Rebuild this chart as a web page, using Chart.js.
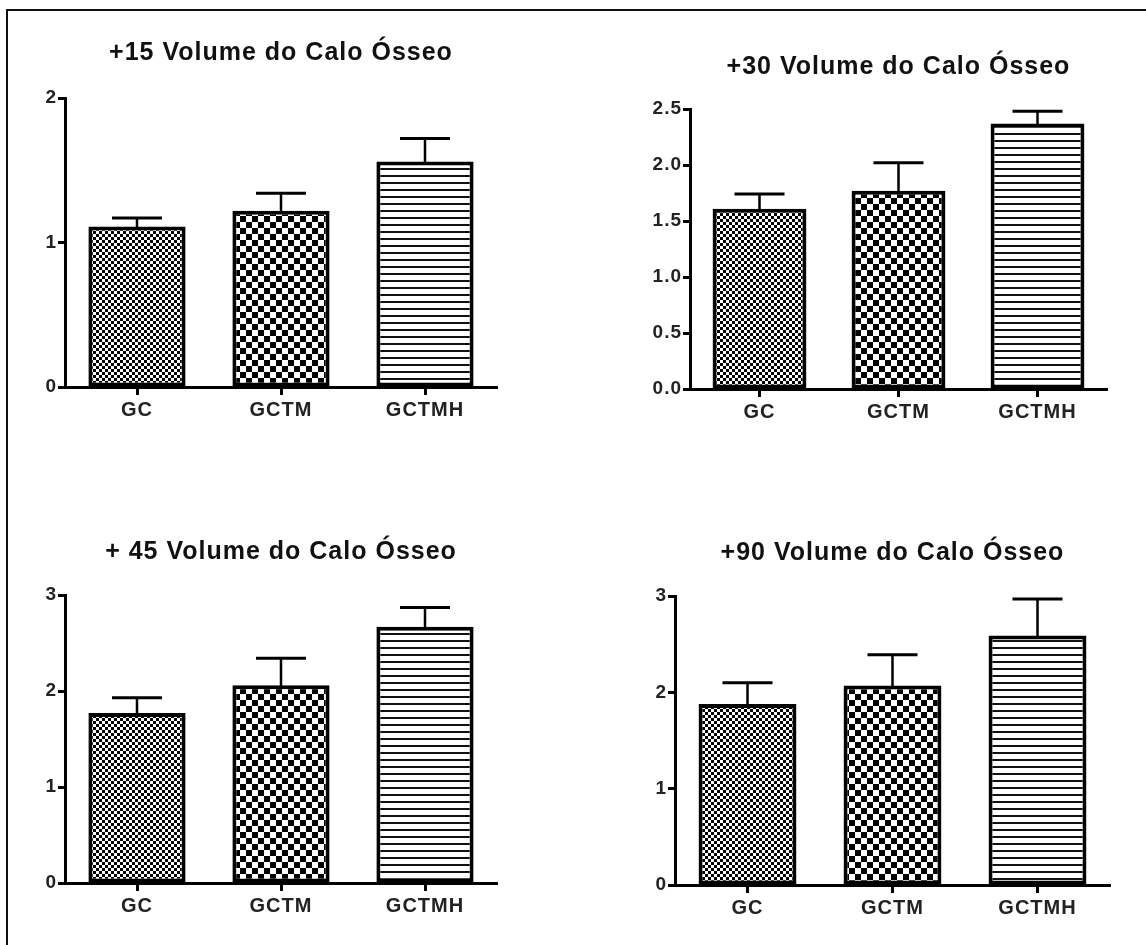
<!DOCTYPE html>
<html>
<head>
<meta charset="utf-8">
<script src="https://cdn.jsdelivr.net/npm/chart.js@4"></script>
<style>
  body { margin: 0; background: #fff; overflow: hidden; }
  #frame { position: absolute; left: 6px; top: 9px; width: 1140px; height: 936px;
           border-left: 2px solid #111; border-top: 2px solid #111; }
  canvas { position: absolute; }
</style>
</head>
<body>
<div id="frame"></div>
<canvas id="c15" width="573" height="472" style="left:0;top:0"></canvas>
<canvas id="c30" width="573" height="472" style="left:573px;top:0"></canvas>
<canvas id="c45" width="573" height="473" style="left:0;top:472px"></canvas>
<canvas id="c90" width="573" height="473" style="left:573px;top:472px"></canvas>
<script>
// data
const groups = ['GC', 'GCTM', 'GCTMH'];

const mean15 = [1.11, 1.22, 1.56];
const sem15  = [0.06, 0.12, 0.16];

const mean30 = [1.61, 1.77, 2.37];
const sem30  = [0.13, 0.25, 0.11];

const mean45 = [1.77, 2.06, 2.67];
const sem45  = [0.16, 0.28, 0.20];

const mean90 = [1.88, 2.07, 2.59];
const sem90  = [0.22, 0.32, 0.38];

const FONT = "'Liberation Sans', Arial, sans-serif";
const YW = 50;   // fixed y axis width
const XH = 40;   // fixed x axis height

function checker(ctx, cell) {
  const c = document.createElement('canvas');
  c.width = c.height = cell * 2;
  const g = c.getContext('2d');
  g.fillStyle = '#fff';
  g.fillRect(0, 0, cell * 2, cell * 2);
  g.fillStyle = '#000';
  g.fillRect(0, 0, cell, cell);
  g.fillRect(cell, cell, cell, cell);
  return ctx.createPattern(c, 'repeat');
}

function stripes(ctx, period, line) {
  const c = document.createElement('canvas');
  c.width = 8;
  c.height = period;
  const g = c.getContext('2d');
  g.fillStyle = '#fff';
  g.fillRect(0, 0, 8, period);
  g.fillStyle = '#111';
  g.fillRect(0, 0, 8, line);
  return ctx.createPattern(c, 'repeat');
}

// the original text is slightly spaced out
const spacing = {
  id: 'spacing',
  beforeDraw(chart) { chart.ctx.letterSpacing = '1px'; }
};

const errorBars = {
  id: 'errorBars',
  afterDatasetsDraw(chart) {
    const ctx = chart.ctx;
    const ds = chart.data.datasets[0];
    const y = chart.scales.y;
    ctx.save();
    ctx.strokeStyle = '#000';
    chart.getDatasetMeta(0).data.forEach((bar, i) => {
      const top = y.getPixelForValue(ds.data[i] + ds.errors[i]);
      ctx.lineWidth = 2.5;
      ctx.beginPath();
      ctx.moveTo(bar.x, bar.y + 2);
      ctx.lineTo(bar.x, top);
      ctx.stroke();
      ctx.lineWidth = 3;
      ctx.beginPath();
      ctx.moveTo(bar.x - 25, top);
      ctx.lineTo(bar.x + 25, top);
      ctx.stroke();
    });
    ctx.restore();
  }
};

function makePanel(id, title, means, errs, yMax, yStep, decimals, box, area, titleY) {
  const canvas = document.getElementById(id);
  const ctx = canvas.getContext('2d');
  return new Chart(ctx, {
    type: 'bar',
    data: {
      labels: groups,
      datasets: [{
        data: means,
        errors: errs,
        backgroundColor: [checker(ctx, 3), checker(ctx, 6), stripes(ctx, 7, 2)],
        borderColor: '#000',
        borderWidth: 4,
        borderSkipped: false,
        categoryPercentage: 1,
        barPercentage: 0.675
      }]
    },
    options: {
      responsive: false,
      animation: false,
      layout: {
        padding: {
          left: area.left - box.x - YW,
          right: box.x + box.w - area.right,
          top: titleY - 15 - box.y,
          bottom: box.y + box.h - area.bottom - XH
        }
      },
      plugins: {
        legend: { display: false },
        tooltip: { enabled: false },
        title: {
          display: true,
          text: title,
          fullSize: false,
          color: '#111',
          font: { family: FONT, size: 25, weight: 'bold', lineHeight: 1.2 },
          padding: { top: 0, bottom: area.top - titleY - 15 }
        }
      },
      scales: {
        x: {
          afterFit(s) { s.height = XH; },
          border: { color: '#000', width: 3 },
          grid: { offset: false, drawOnChartArea: false, tickLength: 8, tickWidth: 3, tickColor: '#000' },
          ticks: { color: '#222', padding: 3, maxRotation: 0, font: { family: FONT, size: 20, weight: 'bold' } }
        },
        y: {
          min: 0,
          max: yMax,
          afterFit(s) { s.width = YW; },
          border: { color: '#000', width: 3 },
          grid: { drawOnChartArea: false, tickLength: 7, tickWidth: 3, tickColor: '#000' },
          ticks: {
            stepSize: yStep,
            color: '#222',
            padding: 1,
            font: { family: FONT, size: 19, weight: 'bold' },
            callback: v => v.toFixed(decimals)
          }
        }
      }
    },
    plugins: [spacing, errorBars]
  });
}

makePanel('c15', '+15 Volume do Calo Ósseo', mean15, sem15, 2, 1, 0,
  { x: 0, y: 0, w: 573, h: 472 }, { left: 65, right: 497, top: 98, bottom: 387 }, 53);
makePanel('c30', '+30 Volume do Calo Ósseo', mean30, sem30, 2.5, 0.5, 1,
  { x: 573, y: 0, w: 573, h: 472 }, { left: 690, right: 1107, top: 109, bottom: 389 }, 67);
makePanel('c45', '+ 45 Volume do Calo Ósseo', mean45, sem45, 3, 1, 0,
  { x: 0, y: 472, w: 573, h: 473 }, { left: 65, right: 497, top: 595, bottom: 883 }, 552);
makePanel('c90', '+90 Volume do Calo Ósseo', mean90, sem90, 3, 1, 0,
  { x: 573, y: 472, w: 573, h: 473 }, { left: 675, right: 1110, top: 596, bottom: 885 }, 553);
</script>
</body>
</html>
